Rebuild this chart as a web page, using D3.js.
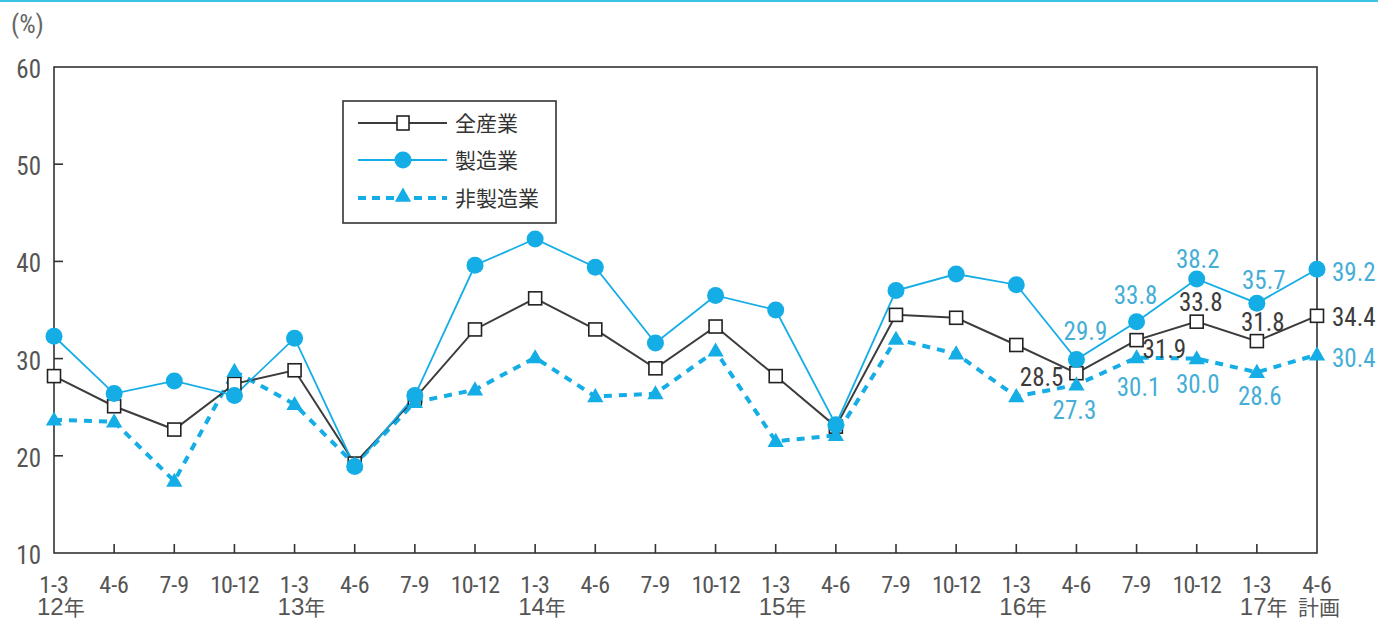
<!DOCTYPE html>
<html>
<head>
<meta charset="utf-8">
<script src="https://cdn.jsdelivr.net/npm/d3@7"></script>
<style>
  html, body { margin: 0; padding: 0; background: #fff; }
  svg { display: block; }
  .num { font-family: 'Liberation Sans Narrow', 'Arial Narrow', 'Roboto Condensed', sans-serif; }
  .jp  { font-family: 'Noto Sans CJK JP', sans-serif; }
</style>
</head>
<body>
<svg id="chart" width="1378" height="623"></svg>
<script>
// Quarter labels (fiscal periods) and the year label under the first quarter of each year
const quarters = ["1-3","4-6","7-9","10-12","1-3","4-6","7-9","10-12","1-3","4-6","7-9","10-12",
                  "1-3","4-6","7-9","10-12","1-3","4-6","7-9","10-12","1-3","4-6"];
const yearLabels = ["12年","","","","13年","","","","14年","","","","15年","","","","16年","","","","17年","計画"];

// Series values (%)
const allIndustries = [28.2,25.1,22.7,27.4,28.8,19.2,25.9,33.0,36.2,33.0,29.0,33.3,
                       28.2,23.0,34.5,34.2,31.4,28.5,31.9,33.8,31.8,34.4];
const manufacturing = [32.3,26.4,27.7,26.2,32.1,18.9,26.2,39.6,42.3,39.4,31.6,36.5,
                       35.0,23.2,37.0,38.7,37.6,29.9,33.8,38.2,35.7,39.2];
const nonManufacturing = [23.7,23.5,17.4,28.7,25.3,19.1,25.5,26.8,30.1,26.1,26.4,30.8,
                          21.5,22.1,32.0,30.5,26.1,27.3,30.1,30.0,28.6,30.4];

const yTicks = [10,20,30,40,50,60];
const seriesNames = ["全産業","製造業","非製造業"];

// Indices of the points whose values are printed next to the markers
const labelledIdx = [17,18,19,20,21];

const BLUE = "#14ade6";
const BLUE_TEXT = "#45aed6";
const DARK = "#3c3c3c";

const svg = d3.select("#chart");

// Thin rule across the top of the page
svg.append("line").attr("x1",0).attr("x2",1378).attr("y1",1).attr("y2",1)
  .attr("stroke","#3cc3e3").attr("stroke-width",2);

const plotLeft = 54, plotRight = 1317, plotTop = 67, plotBottom = 553;
const x = d3.scalePoint().domain(d3.range(quarters.length)).range([plotLeft, plotRight]).padding(0);
const y = d3.scaleLinear().domain([10,60]).range([plotBottom, plotTop]);

// Unit label
svg.append("text").attr("class","num").attr("x",11).attr("y",33)
  .attr("font-size",26).attr("fill","#666").text("(%)");

// Plot frame
svg.append("rect").attr("x",plotLeft).attr("y",plotTop)
  .attr("width",plotRight-plotLeft).attr("height",plotBottom-plotTop)
  .attr("fill","none").attr("stroke","#333").attr("stroke-width",1.6);

// Left axis: inward ticks and labels
const yAxis = d3.axisLeft(y).tickValues(yTicks).tickSize(0).tickPadding(13);
const gy = svg.append("g").attr("transform",`translate(${plotLeft},0)`).call(yAxis);
gy.select(".domain").remove();
gy.selectAll("text").attr("class","num").attr("font-size",25).attr("fill","#555")
  .attr("dy","0.42em");
svg.append("g").selectAll("line").data(yTicks.filter(v => v > 10 && v < 60)).join("line")
  .attr("x1",plotLeft).attr("x2",plotLeft+9).attr("y1",d=>y(d)).attr("y2",d=>y(d))
  .attr("stroke","#333").attr("stroke-width",1.6);

// Bottom axis: upward ticks at interior quarters, two-line labels
svg.append("g").selectAll("line").data(d3.range(1,quarters.length-1)).join("line")
  .attr("x1",d=>x(d)).attr("x2",d=>x(d)).attr("y1",plotBottom).attr("y2",plotBottom-9)
  .attr("stroke","#333").attr("stroke-width",1.6);

const gx = svg.append("g");
gx.selectAll("text.q").data(quarters).join("text")
  .attr("class","num q").attr("x",(d,i)=>x(i)).attr("y",593)
  .attr("text-anchor","middle").attr("font-size",24).attr("fill","#555")
  .attr("letter-spacing",(d)=> d.length > 3 ? -1 : 0)
  .text(d=>d);
gx.selectAll("text.yr").data(yearLabels).join("text")
  .attr("class","yr")
  .attr("x",(d,i)=> d === "計画" ? x(i) + 2 : x(i) - 17)
  .attr("y",615)
  .attr("text-anchor",d=> d === "計画" ? "middle" : "start")
  .attr("font-size",21).attr("fill","#555")
  .each(function(d){
    const t = d3.select(this);
    const m = d.match(/^(\d+)(.*)$/);
    if (m) {
      t.append("tspan").attr("font-family","'Liberation Sans Narrow', 'Arial Narrow', sans-serif")
        .attr("font-size",24).text(m[1]);
      t.append("tspan").attr("font-family","'Noto Sans CJK JP', sans-serif").text(m[2]);
    } else {
      t.attr("font-family","'Noto Sans CJK JP', sans-serif").text(d);
    }
  });

const line = d3.line().x((d,i)=>x(i)).y(d=>y(d));

// Lines
svg.append("path").datum(nonManufacturing).attr("d",line).attr("fill","none")
  .attr("stroke",BLUE).attr("stroke-width",4).attr("stroke-dasharray","8,7");
svg.append("path").datum(allIndustries).attr("d",line).attr("fill","none")
  .attr("stroke",DARK).attr("stroke-width",2);
svg.append("path").datum(manufacturing).attr("d",line).attr("fill","none")
  .attr("stroke",BLUE).attr("stroke-width",1.8);

// Markers
const sq = 13;
svg.append("g").selectAll("rect").data(allIndustries).join("rect")
  .attr("x",(d,i)=>x(i)-sq/2).attr("y",d=>y(d)-sq/2).attr("width",sq).attr("height",sq)
  .attr("fill","#fff").attr("stroke","#222").attr("stroke-width",1.6);
svg.append("g").selectAll("circle").data(manufacturing).join("circle")
  .attr("cx",(d,i)=>x(i)).attr("cy",d=>y(d)).attr("r",8.5).attr("fill",BLUE);
const tri = d3.symbol().type(d3.symbolTriangle).size(115);
svg.append("g").selectAll("path").data(nonManufacturing).join("path")
  .attr("transform",(d,i)=>`translate(${x(i)},${y(d)+1})`).attr("d",tri).attr("fill",BLUE);

// Value labels for the latest quarters
const labelSpecs = [
  { data: allIndustries, color: DARK,
    off: { 17:[-13,4,"end"], 18:[6,9,"start"], 19:[4,-20,"middle"], 20:[6,-19,"middle"], 21:[15,1,"start"] } },
  { data: manufacturing, color: BLUE_TEXT,
    off: { 17:[9,-29,"middle"], 18:[-1,-27,"middle"], 19:[1,-20,"middle"], 20:[7,-23,"middle"], 21:[15,3,"start"] } },
  { data: nonManufacturing, color: BLUE_TEXT,
    off: { 17:[-2,25,"middle"], 18:[2,29,"middle"], 19:[1,25,"middle"], 20:[3,24,"middle"], 21:[15,3,"start"] } }
];
labelSpecs.forEach(s => {
  svg.append("g").selectAll("text").data(labelledIdx).join("text")
    .attr("class","num")
    .attr("x",i=>x(i)+s.off[i][0]).attr("y",i=>y(s.data[i])+s.off[i][1])
    .attr("dy","0.36em").attr("text-anchor",i=>s.off[i][2])
    .attr("font-size",25).attr("fill",s.color)
    .text(i=>s.data[i].toFixed(1));
});

// Legend
const lg = svg.append("g");
lg.append("rect").attr("x",343).attr("y",101).attr("width",213).attr("height",122)
  .attr("fill","#fff").attr("stroke","#333").attr("stroke-width",1.6);
const rows = [123,160,198];
// 全産業
lg.append("line").attr("x1",358).attr("x2",447).attr("y1",rows[0]).attr("y2",rows[0])
  .attr("stroke",DARK).attr("stroke-width",2);
lg.append("rect").attr("x",403-6).attr("y",rows[0]-7).attr("width",12).attr("height",14)
  .attr("fill","#fff").attr("stroke","#222").attr("stroke-width",1.6);
// 製造業
lg.append("line").attr("x1",358).attr("x2",447).attr("y1",rows[1]).attr("y2",rows[1])
  .attr("stroke",BLUE).attr("stroke-width",2);
lg.append("circle").attr("cx",403).attr("cy",rows[1]).attr("r",8.5).attr("fill",BLUE);
// 非製造業
lg.append("line").attr("x1",358).attr("x2",447).attr("y1",rows[2]).attr("y2",rows[2])
  .attr("stroke",BLUE).attr("stroke-width",4).attr("stroke-dasharray","8,6");
lg.append("path").attr("transform",`translate(403,${rows[2]-1})`).attr("d",tri).attr("fill",BLUE);
lg.selectAll("text").data(seriesNames).join("text")
  .attr("class","jp").attr("x",455).attr("y",(d,i)=>rows[i]).attr("dy","0.36em")
  .attr("font-size",21).attr("fill","#333").text(d=>d);
</script>
</body>
</html>
